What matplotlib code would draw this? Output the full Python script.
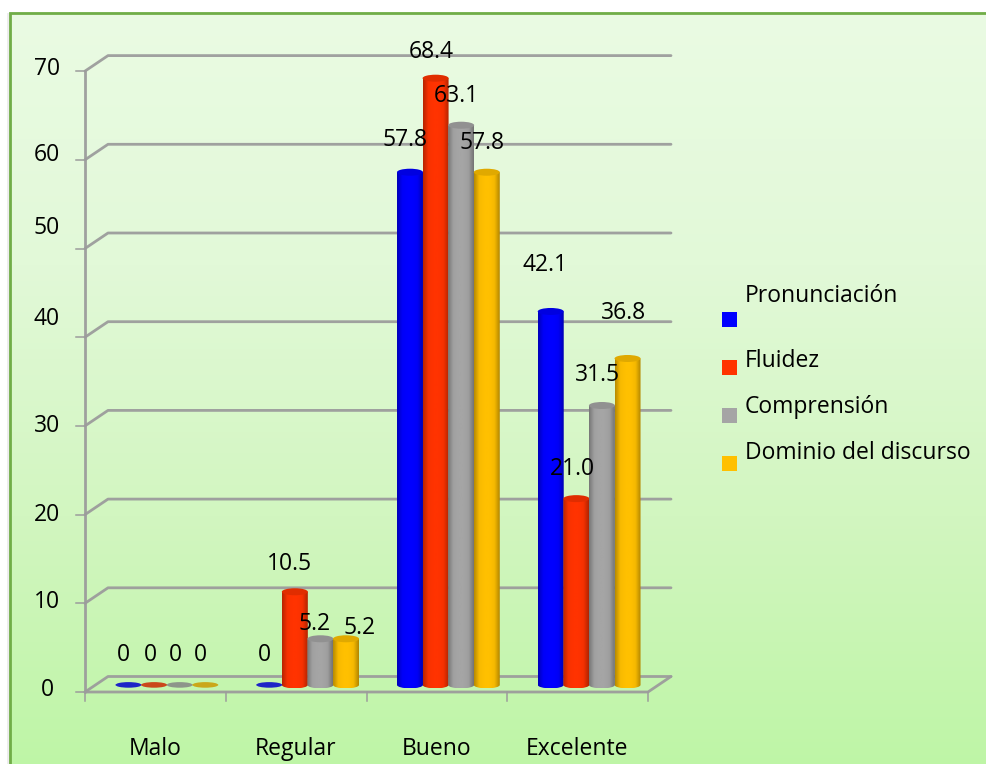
import numpy as np
import matplotlib
matplotlib.use('Agg')
import matplotlib.pyplot as plt
from matplotlib.colors import LinearSegmentedColormap, to_rgb
from matplotlib.patches import Ellipse, PathPatch, Rectangle
from matplotlib.path import Path

plt.rcParams['font.family'] = ['Open Sans', 'DejaVu Sans']

categories = ['Malo', 'Regular', 'Bueno', 'Excelente']
pronunciacion = [0, 0, 57.8, 42.1]
fluidez = [0, 10.5, 68.4, 21.0]
comprension = [0, 5.2, 63.1, 31.5]
dominio = [0, 5.2, 57.8, 36.8]
series_names = ['Pronunciación', 'Fluidez', 'Comprensión', 'Dominio del discurso']
series_values = [pronunciacion, fluidez, comprension, dominio]
series_labels = [
    ['0', '0', '57.8', '42.1'],
    ['0', '10.5', '68.4', '21.0'],
    ['0', '5.2', '63.1', '31.5'],
    ['0', '5.2', '57.8', '36.8'],
]
y_ticks = [0, 10, 20, 30, 40, 50, 60, 70]

# estilos y posiciones
colors = ['#0000FF', '#FF3300', '#A5A5A5', '#FFC000']
grid_color = '#9C9C9C'
W, H = 986, 764
X0, CAT_W = 85, 140.75     # pixel de x=0 y ancho de categoria
Y0, UNIT = 692, 8.87       # pixel de y=0 y pixeles por unidad
DX, DY = 23 / CAT_W, 15.5 / UNIT   # profundidad del piso

# posicion de las etiquetas en pixeles (en el original no siguen a las barras)
label_px = [
    [(123, 655), (264, 655), (405, 140), (545, 265)],
    [(150, 655), (289, 564), (431, 52), (572, 469)],
    [(175, 655), (315, 624), (456, 96), (597, 375)],
    [(200, 655), (360, 628), (482, 143), (623, 313)],
]
tick_label_py = [690, 602, 515, 426, 319, 228, 155, 69]
legend_text_py = [296, 361, 407, 453]
legend_box_py = [312, 360, 408, 456]


def px(x, y):
    return (x - X0) / CAT_W, (Y0 - y) / UNIT


def shade(color):
    rgb = np.array(to_rgb(color))
    return LinearSegmentedColormap.from_list('c', [rgb * 0.72, rgb * 0.97, rgb, rgb, rgb * 0.96, rgb * 0.7])


fig = plt.figure(figsize=(W / 100, H / 100), dpi=100)
ax = fig.add_axes([0, 0, 1, 1])
ax.axis('off')
xlim = (px(0, 0)[0], px(W, 0)[0])
ylim = (px(0, H)[1], px(0, 0)[1])

# fondo con degradado
bg = LinearSegmentedColormap.from_list('bg', ['#EAFBE3', '#E2F9D8', '#D2F6C0', '#BEF5A6'])
x1, y1 = px(10, 13)
x2, y2 = px(W + 5, H + 5)
sx, _ = px(7, 0)
ax.add_patch(Rectangle((sx, y2), x1 - sx, y1 - y2, fc='#EDEDED', ec='none', zorder=0))
ax.imshow(np.linspace(0, 1, 256).reshape(-1, 1), cmap=bg, extent=(x1, x2, y2, y1),
          aspect='auto', origin='upper', zorder=0.5)
ax.add_patch(Rectangle((x1, y2), x2 - x1, y1 - y2, fc='none', ec='#70AD47', lw=2, zorder=1))

# paredes y piso
n = len(categories)
line = dict(color=grid_color, lw=2.0, alpha=0.95, zorder=2, solid_capstyle='round')
for t in y_ticks:
    ax.plot([0, DX, n + DX], [t, t + DY, t + DY], **line)
    ax.plot([-9 / CAT_W, 0], [t, t], color=grid_color, lw=1.1, zorder=2)
ax.plot([0, 0], [0, 70], **line)
ax.plot([0, n, n + DX], [0, 0, DY], **line)
for i in range(n + 1):
    ax.plot([i, i], [0, -9 / UNIT], color=grid_color, lw=1.1, zorder=2)

# barras cilindricas
bar_w = 26 / CAT_W
step = 25.6 / CAT_W
base = 0.8
cap_h = 7 / UNIT
grad = np.linspace(0, 1, 64).reshape(1, -1)
centers = np.arange(n) + 0.5 + DX / 2
for s, (values, color) in enumerate(zip(series_values, colors)):
    rgb = np.array(to_rgb(color))
    for c, v in zip(centers, values):
        xc = c + (s - 1.5) * step
        if v == 0:
            ax.add_patch(Ellipse((xc, base), bar_w, cap_h * 0.8, fc=rgb * 0.8, ec='none', alpha=0.85, zorder=4))
            continue
        left, right = xc - bar_w / 2, xc + bar_w / 2
        top = base + v
        im = ax.imshow(grad, cmap=shade(color), extent=(left, right, base - cap_h / 2, top),
                       aspect='auto', zorder=3 + s * 0.1)
        # contorno del cilindro: cuerpo + parte baja redondeada
        k = 0.55
        verts = [(left, top), (left, base), (left, base - k * cap_h / 2),
                 (xc - k * bar_w / 2, base - cap_h / 2), (xc, base - cap_h / 2),
                 (xc + k * bar_w / 2, base - cap_h / 2), (right, base - k * cap_h / 2),
                 (right, base), (right, top), (left, top)]
        codes = [Path.MOVETO, Path.LINETO, Path.CURVE4, Path.CURVE4, Path.CURVE4,
                 Path.CURVE4, Path.CURVE4, Path.CURVE4, Path.LINETO, Path.CLOSEPOLY]
        clip = PathPatch(Path(verts, codes), transform=ax.transData, fc='none', ec='none')
        ax.add_patch(clip)
        im.set_clip_path(clip)
        ax.add_patch(Ellipse((xc, top), bar_w, cap_h, fc=rgb * 0.88, ec='none', zorder=3 + s * 0.1))

# etiquetas de datos
fs = 16.5
for s in range(4):
    for text, (lx, ly) in zip(series_labels[s], label_px[s]):
        ax.text(*px(lx, ly), text, fontsize=fs, ha='center', va='center', color='black', zorder=6)

# ejes: textos
for t, py in zip(y_ticks, tick_label_py):
    ax.text(*px(47, py), str(t), fontsize=fs, ha='center', va='center', color='black', zorder=6)
cat_px = [155, 296, 437, 577]
for name, cx in zip(categories, cat_px):
    ax.text(*px(cx, 749), name, fontsize=fs, ha='center', va='center', color='black', zorder=6)

# leyenda
for name, color, ty, by in zip(series_names, colors, legend_text_py, legend_box_py):
    bx, bty = px(722, by)
    ax.add_patch(Rectangle((bx, bty - 15 / UNIT), 15 / CAT_W, 15 / UNIT, fc=color, ec='none', zorder=5))
    ax.text(*px(745, ty), name, fontsize=fs, ha='left', va='center', color='black', zorder=6)

ax.set_xlim(xlim)
ax.set_ylim(ylim)
fig.savefig('out.png', dpi=100)
